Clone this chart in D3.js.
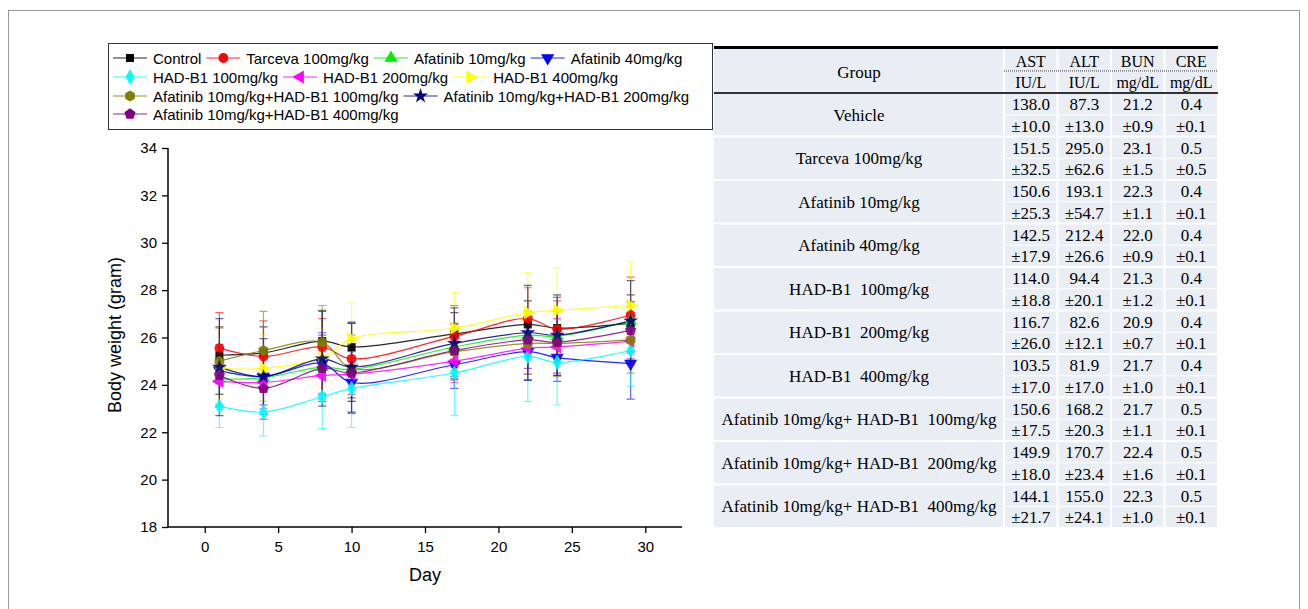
<!DOCTYPE html>
<html>
<head>
<meta charset="utf-8">
<script src="https://cdn.jsdelivr.net/npm/d3@7"></script>
<style>
body { margin: 0; background: #fff; }
svg { display: block; }
</style>
</head>
<body>
<script>
// body weight data
var days = [1, 4, 8, 10, 17, 22, 24, 29];

var groupNames = ["Control", "Tarceva 100mg/kg", "Afatinib 10mg/kg", "Afatinib 40mg/kg",
  "HAD-B1 100mg/kg", "HAD-B1 200mg/kg", "HAD-B1 400mg/kg",
  "Afatinib 10mg/kg+HAD-B1 100mg/kg", "Afatinib 10mg/kg+HAD-B1 200mg/kg",
  "Afatinib 10mg/kg+HAD-B1 400mg/kg"];

var control   = [25.25, 25.35, 25.85, 25.6, 26.15, 26.55, 26.4, 26.6];
var tarceva   = [25.55, 25.2, 25.6, 25.1, 26.05, 26.8, 26.35, 26.95];
var afa10     = [24.25, 24.3, 24.75, 24.65, 25.6, 26.1, 26.05, 26.7];
var afa40     = [24.6, 24.35, 24.9, 24.1, 24.85, 25.4, 25.15, 24.9];
var had100    = [23.1, 22.85, 23.5, 23.85, 24.5, 25.2, 24.95, 25.45];
var had200    = [24.15, 24.1, 24.4, 24.45, 25.0, 25.55, 25.6, 25.85];
var had400    = [24.7, 24.7, 25.15, 25.95, 26.4, 27.05, 27.15, 27.35];
var combo100  = [25.0, 25.45, 25.8, 24.7, 25.4, 25.75, 25.75, 25.9];
var combo200  = [24.75, 24.35, 25.1, 24.75, 25.75, 26.2, 26.1, 26.7];
var combo400  = [24.4, 23.85, 24.7, 24.5, 25.45, 25.9, 25.8, 26.3];

var controlSD  = [1.2, 1.1, 1.3, 1.0, 0.9, 1.0, 1.3, 1.2];
var tarcevaSD  = [1.5, 1.5, 1.2, 1.5, 1.3, 1.3, 1.2, 1.6];
var afa10SD    = [1.2, 1.0, 1.1, 1.2, 1.0, 1.0, 1.1, 0.8];
var afa40SD    = [1.0, 1.2, 1.3, 1.3, 1.0, 1.2, 1.0, 1.5];
var had100SD   = [0.9, 1.0, 1.35, 1.65, 1.8, 1.9, 1.8, 1.5];
var had200SD   = [1.0, 1.1, 1.0, 1.0, 0.9, 1.1, 1.2, 1.0];
var had400SD   = [1.3, 1.4, 1.2, 1.5, 1.5, 1.7, 1.8, 1.85];
var combo100SD = [1.4, 1.65, 1.55, 1.4, 1.2, 1.3, 1.4, 1.4];
var combo200SD = [2.05, 1.6, 2.0, 1.9, 1.5, 2.0, 1.7, 1.7];
var combo400SD = [1.3, 1.3, 1.4, 1.2, 1.1, 1.2, 1.3, 1.2];

var yTicks = [18, 20, 22, 24, 26, 28, 30, 32, 34];
var xTicks = [0, 5, 10, 15, 20, 25, 30];

// serum chemistry table
var tableGroups = ["Vehicle", "Tarceva 100mg/kg", "Afatinib 10mg/kg", "Afatinib 40mg/kg",
  "HAD-B1  100mg/kg", "HAD-B1  200mg/kg", "HAD-B1  400mg/kg",
  "Afatinib 10mg/kg+ HAD-B1  100mg/kg", "Afatinib 10mg/kg+ HAD-B1  200mg/kg",
  "Afatinib 10mg/kg+ HAD-B1  400mg/kg"];
var tableCols  = ["AST", "ALT", "BUN", "CRE"];
var tableUnits = ["IU/L", "IU/L", "mg/dL", "mg/dL"];
var astMean = [138.0, 151.5, 150.6, 142.5, 114.0, 116.7, 103.5, 150.6, 149.9, 144.1];
var astSD   = [10.0, 32.5, 25.3, 17.9, 18.8, 26.0, 17.0, 17.5, 18.0, 21.7];
var altMean = [87.3, 295.0, 193.1, 212.4, 94.4, 82.6, 81.9, 168.2, 170.7, 155.0];
var altSD   = [13.0, 62.6, 54.7, 26.6, 20.1, 12.1, 17.0, 20.3, 23.4, 24.1];
var bunMean = [21.2, 23.1, 22.3, 22.0, 21.3, 20.9, 21.7, 21.7, 22.4, 22.3];
var bunSD   = [0.9, 1.5, 1.1, 0.9, 1.2, 0.7, 1.0, 1.1, 1.6, 1.0];
var creMean = [0.4, 0.5, 0.4, 0.4, 0.4, 0.4, 0.4, 0.5, 0.5, 0.5];
var creSD   = [0.1, 0.5, 0.1, 0.1, 0.1, 0.1, 0.1, 0.1, 0.1, 0.1];

function polygon(n, rot) {
  return { draw: function (ctx, size) {
    var r = Math.sqrt(size / (n / 2 * Math.sin(2 * Math.PI / n)));
    for (var i = 0; i < n; i++) {
      var a = rot + i * 2 * Math.PI / n;
      if (i == 0) ctx.moveTo(r * Math.sin(a), -r * Math.cos(a));
      else ctx.lineTo(r * Math.sin(a), -r * Math.cos(a));
    }
    ctx.closePath();
  }};
}

var means = [control, tarceva, afa10, afa40, had100, had200, had400, combo100, combo200, combo400];
var sds = [controlSD, tarcevaSD, afa10SD, afa40SD, had100SD, had200SD, had400SD, combo100SD, combo200SD, combo400SD];
var colors = ["#000000", "#ff0000", "#00ee00", "#0000ff", "#00ffff", "#ff00ff", "#ffff00", "#808000", "#000080", "#800080"];
var shapes = [d3.symbolSquare, d3.symbolCircle, polygon(3, 0), polygon(3, Math.PI), d3.symbolDiamond,
  polygon(3, -Math.PI / 2), polygon(3, Math.PI / 2), polygon(6, 0), d3.symbolStar, polygon(5, 0)];
var sizes = [64, 75, 75, 75, 70, 75, 75, 80, 70, 80];

var series = groupNames.map(function (name, i) {
  return {
    name: name, color: colors[i], shape: shapes[i], size: sizes[i],
    values: days.map(function (d, j) { return { day: d, mean: means[i][j], sd: sds[i][j] }; })
  };
});

var svg = d3.select("body").append("svg")
  .attr("width", 1308)
  .attr("height", 609);

// outer frame
svg.append("rect")
  .attr("x", 8.5).attr("y", 10.5)
  .attr("width", 1291).attr("height", 620)
  .attr("fill", "none").attr("stroke", "#999").attr("stroke-width", 1);

var x = d3.scaleLinear().domain([-2.5, 32.5]).range([168, 682]);
var y = d3.scaleLinear().domain([18, 34]).range([527, 148]);

var font = "Arial, 'Liberation Sans', sans-serif";

// axes
var gx = svg.append("g").attr("transform", "translate(0,527)");
gx.call(d3.axisBottom(x).tickValues(d3.range(-2.5, 33, 2.5)).tickSize(4).tickFormat(""));
gx.call(d3.axisBottom(x).tickValues(xTicks).tickSize(6).tickPadding(8).tickFormat(d3.format("d")));
gx.selectAll(".domain").attr("stroke-width", 1.5).attr("d", "M168,0H682");
gx.selectAll("line").attr("stroke-width", 1.3);
gx.selectAll("text").style("font-family", font).style("font-size", "15px").attr("fill", "#000");

var gy = svg.append("g").attr("transform", "translate(168,0)");
gy.call(d3.axisLeft(y).tickValues(d3.range(18, 34.5, 1)).tickSize(3).tickFormat(""));
gy.call(d3.axisLeft(y).tickValues(yTicks).tickSize(6).tickPadding(5).tickFormat(d3.format("d")));
gy.selectAll(".domain").attr("stroke-width", 1.5).attr("d", "M0,527V148");
gy.selectAll("line").attr("stroke-width", 1.3);
gy.selectAll("text").style("font-family", font).style("font-size", "15px").attr("fill", "#000");

svg.append("text")
  .attr("transform", "translate(121,335) rotate(-90)")
  .attr("text-anchor", "middle")
  .style("font-family", font).style("font-size", "18px")
  .text("Body weight (gram)");

svg.append("text")
  .attr("x", 425).attr("y", 581)
  .attr("text-anchor", "middle")
  .style("font-family", font).style("font-size", "18px")
  .text("Day");

var line = d3.line()
  .x(function (d) { return x(d.day); })
  .y(function (d) { return y(d.mean); })
  .curve(d3.curveCatmullRom.alpha(0.5));

// error bars
series.forEach(function (s) {
  var g = svg.append("g").attr("stroke", s.color).attr("opacity", 0.6).attr("stroke-width", 1.2);
  g.selectAll(".eb").data(s.values).enter().append("path")
    .attr("fill", "none")
    .attr("d", function (d) {
      var cx = x(d.day), y0 = y(d.mean - d.sd), y1 = y(d.mean + d.sd);
      return "M" + cx + "," + y0 + "V" + y1 +
        "M" + (cx - 4) + "," + y0 + "H" + (cx + 4) +
        "M" + (cx - 4) + "," + y1 + "H" + (cx + 4);
    });
});

// lines
series.forEach(function (s) {
  svg.append("path")
    .datum(s.values)
    .attr("fill", "none")
    .attr("stroke", s.color)
    .attr("stroke-width", 1.2)
    .attr("opacity", 0.85)
    .attr("d", line);
});

// markers
series.forEach(function (s) {
  svg.append("g").selectAll("path").data(s.values).enter().append("path")
    .attr("transform", function (d) { return "translate(" + x(d.day) + "," + y(d.mean) + ")"; })
    .attr("d", d3.symbol().type(s.shape).size(s.size))
    .attr("fill", s.color)
    .attr("opacity", 0.9);
});

// legend
var legend = svg.append("g");
legend.append("rect")
  .attr("x", 108.5).attr("y", 43.5).attr("width", 604).attr("height", 86)
  .attr("fill", "#fff").attr("stroke", "#333").attr("stroke-width", 1);

var legendRows = [[0, 1, 2, 3], [4, 5, 6], [7, 8], [9]];
var rowY = [58, 77, 96, 114];
legendRows.forEach(function (row, r) {
  var lx = 113;
  row.forEach(function (i) {
    var s = series[i];
    var ly = rowY[r];
    legend.append("line")
      .attr("x1", lx).attr("x2", lx + 34).attr("y1", ly).attr("y2", ly)
      .attr("stroke", s.color).attr("stroke-width", 1.2).attr("opacity", 0.85);
    legend.append("path")
      .attr("transform", "translate(" + (lx + 17) + "," + ly + ")")
      .attr("d", d3.symbol().type(s.shape).size(s.size))
      .attr("fill", s.color);
    var t = legend.append("text")
      .attr("x", lx + 40).attr("y", ly + 5.5)
      .style("font-family", font).style("font-size", "15px")
      .text(s.name);
    lx = lx + 40 + t.node().getComputedTextLength() + 5;
  });
});

// table
var tx0 = 714, tx1 = 1218, groupW = 290;
var colW = (tx1 - tx0 - groupW) / 4;
var headTop = 49, headMid = 71, headBot = 93, rowH = 43.5;
var serif = "'Times New Roman', 'Liberation Serif', serif";
var tsize = "17px";
var cellFill = "#e9edf4";
var table = svg.append("g");

var cols = [
  { mean: astMean, sd: astSD },
  { mean: altMean, sd: altSD },
  { mean: bunMean, sd: bunSD },
  { mean: creMean, sd: creSD }
];

// header cells
table.append("rect").attr("x", tx0).attr("y", headTop).attr("width", groupW - 1).attr("height", headBot - headTop).attr("fill", cellFill);
tableCols.forEach(function (c, j) {
  var cx = tx0 + groupW + j * colW;
  table.append("rect").attr("x", cx + 1).attr("y", headTop).attr("width", colW - 2).attr("height", headMid - headTop).attr("fill", cellFill);
  table.append("rect").attr("x", cx + 1).attr("y", headMid + 1).attr("width", colW - 2).attr("height", headBot - headMid - 1).attr("fill", cellFill);
  table.append("text").attr("x", cx + colW / 2).attr("y", 67).attr("text-anchor", "middle")
    .style("font-family", serif).style("font-size", "16px").text(c);
  table.append("text").attr("x", cx + colW / 2).attr("y", 87.5).attr("text-anchor", "middle")
    .style("font-family", serif).style("font-size", "16px").text(tableUnits[j]);
});
table.append("text").attr("x", tx0 + groupW / 2).attr("y", 77.5).attr("text-anchor", "middle")
  .style("font-family", serif).style("font-size", tsize).text("Group");

// body rows
tableGroups.forEach(function (g, i) {
  var ry = headBot + i * rowH;
  table.append("rect").attr("x", tx0).attr("y", ry + 1).attr("width", groupW - 1).attr("height", rowH - 2).attr("fill", cellFill);
  table.append("text").attr("x", tx0 + groupW / 2).attr("y", ry + rowH / 2 + 6)
    .attr("text-anchor", "middle").style("white-space", "pre")
    .style("font-family", serif).style("font-size", tsize).text(g);
  cols.forEach(function (c, j) {
    var cx = tx0 + groupW + j * colW;
    table.append("rect").attr("x", cx + 1).attr("y", ry + 1).attr("width", colW - 2).attr("height", rowH / 2 - 1.5).attr("fill", cellFill);
    table.append("rect").attr("x", cx + 1).attr("y", ry + rowH / 2 + 0.5).attr("width", colW - 2).attr("height", rowH / 2 - 1.5).attr("fill", cellFill);
    table.append("text").attr("x", cx + colW / 2).attr("y", ry + 17).attr("text-anchor", "middle")
      .style("font-family", serif).style("font-size", tsize).text(c.mean[i].toFixed(1));
    table.append("text").attr("x", cx + colW / 2).attr("y", ry + rowH / 2 + 17).attr("text-anchor", "middle")
      .style("font-family", serif).style("font-size", tsize).text("\u00b1" + c.sd[i].toFixed(1));
  });
});

// rules
table.append("line").attr("x1", tx0).attr("x2", tx1).attr("y1", 47.5).attr("y2", 47.5)
  .attr("stroke", "#000").attr("stroke-width", 3);
table.append("line").attr("x1", tx0 + groupW).attr("x2", tx1).attr("y1", headMid).attr("y2", headMid)
  .attr("stroke", "#333").attr("stroke-width", 1).attr("stroke-dasharray", "1,1");
table.append("line").attr("x1", tx0).attr("x2", tx1).attr("y1", headBot).attr("y2", headBot)
  .attr("stroke", "#333").attr("stroke-width", 2);
</script>
</body>
</html>
